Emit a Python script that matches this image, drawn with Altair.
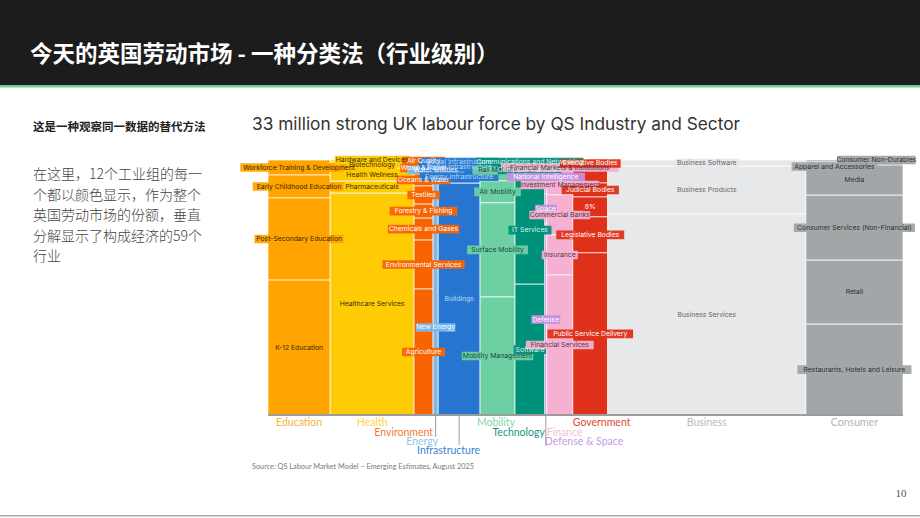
import altair as alt
import pandas as pd

# ---- industry groups (column widths = share of the UK workforce, %) ----
groups = ["Education", "Health", "Environment", "Energy", "Infrastructure", "Mobility",
          "Technology", "Defense & Space", "Finance", "Government", "Business", "Consumer"]
group_share = [9.8, 13.2, 3.0, 0.8, 6.6, 5.5, 4.7, 0.3, 4.1, 5.5, 31.2, 15.3]
group_colors = ["#FFA400", "#FFCB05", "#F96403", "#7AB8EC", "#2676D1", "#6DD0A2",
                "#00917A", "#C68FE3", "#F6B0D2", "#DF3119", "#E7E8EA", "#A3A6A8"]
label_text_colors = ["#3A2800", "#3A3000", "#FFFFFF", "#FFFFFF", "#B4D8FA", "#1E4A3A",
                     "#D9F5EC", "#FFFFFF", "#4E3A46", "#FFFFFF", "#666666", "#2E2E2E"]

# ---- industries within each group, listed top to bottom (share of the group, %) ----
education_industries = ["Workforce Training & Development", "Early Childhood Education",
                        "Post-Secondary Education", "K-12 Education"]
education_shares = [5.9, 9.0, 32.2, 52.9]

health_industries = ["Hardware and Devices", "Biotechnology", "Health Wellness",
                     "Pharmaceuticals", "Healthcare Services"]
health_shares = [0.8, 2.4, 5.1, 4.7, 87.0]

environment_industries = ["Air Quality", "Wood & Paper", "Oceans & Water", "Textiles",
                          "Forestry & Fishing", "Chemicals and Gases",
                          "Environmental Services", "Agriculture"]
environment_shares = [0.8, 4.7, 4.7, 7.1, 5.5, 8.6, 19.2, 49.4]

energy_industries = ["Water Utilities", "New Energy"]
energy_shares = [7.8, 92.2]

infrastructure_industries = ["Social Infrastructure", "Digital Infrastructure",
                             "Energy Infrastructure", "Buildings"]
infrastructure_shares = [1.6, 2.4, 5.1, 90.9]

mobility_industries = ["Rail Mobility", "Air Mobility", "Surface Mobility", "Mobility Management"]
mobility_shares = [8.2, 8.6, 36.9, 46.3]

technology_industries = ["Communications and Networking", "Computer Hardware",
                         "IT Services", "Software"]
technology_shares = [1.6, 4.7, 42.4, 51.3]

defense_industries = ["National Intelligence", "Space", "Defense"]
defense_shares = [13.3, 11.8, 74.9]

finance_industries = ["Financial Markets & Institutions", "Investment Management",
                      "Commercial Banks", "Insurance", "Financial Services"]
finance_shares = [5.9, 7.8, 15.7, 15.7, 54.9]

government_industries = ["Executive Bodies", "Judicial Bodies", "8%",
                         "Legislative Bodies", "Public Service Delivery"]
government_shares = [9.0, 5.5, 7.8, 14.1, 63.6]

business_industries = ["Business Software", "Business Products", "Business Services"]
business_shares = [2.4, 18.8, 78.8]

consumer_industries = ["Consumer Non-Durables", "Apparel and Accessories", "Media",
                       "Consumer Services (Non-Financial)", "Retail",
                       "Restaurants, Hotels and Leisure"]
consumer_shares = [0.8, 1.2, 11.8, 25.5, 25.1, 35.6]

industry_names = [education_industries, health_industries, environment_industries,
                  energy_industries, infrastructure_industries, mobility_industries,
                  technology_industries, defense_industries, finance_industries,
                  government_industries, business_industries, consumer_industries]
industry_shares = [education_shares, health_shares, environment_shares, energy_shares,
                   infrastructure_shares, mobility_shares, technology_shares,
                   defense_shares, finance_shares, government_shares, business_shares,
                   consumer_shares]

# ---- page layout ----
W, H = 920, 518
PLOT_LEFT, PLOT_RIGHT = 268, 903
PLOT_BOTTOM, PLOT_TOP = 415, 160
PX_PER_X = (PLOT_RIGHT - PLOT_LEFT) / 100.0
PX_PER_Y = (PLOT_BOTTOM - PLOT_TOP) / 100.0
LABEL_FONT = "Inter"
LABEL_SIZE = 6.8
CHAR_W = 3.55          # average width of a label character
LABEL_H = 8.6

# labels pushed off their tile centre so they do not sit on a neighbour (dx, dy in px)
label_nudge = {"New Energy": (0, 30), "Consumer Non-Durables": (22, -1),
               "Apparel and Accessories": (-20, 3), "Executive Bodies": (0, -8),
               "Hardware and Devices": (0, -1)}

xs = alt.Scale(domain=[0, 100], range=[PLOT_LEFT, PLOT_RIGHT])
ys = alt.Scale(domain=[0, 100], range=[PLOT_BOTTOM, PLOT_TOP])

# marimekko tiles
rows = []
left = 0.0
for g, gs, col, tcol, names, shares in zip(groups, group_share, group_colors,
                                          label_text_colors, industry_names, industry_shares):
    top = 100.0
    for name, v in zip(names, shares):
        dx, dy = label_nudge.get(name, (0, 0))
        xc = left + gs / 2 + dx / PX_PER_X
        yc = top - v / 2 - dy / PX_PER_Y
        hw = (len(name) * CHAR_W + 4) / 2 / PX_PER_X
        hh = LABEL_H / 2 / PX_PER_Y
        rows.append(dict(group=g, industry=name, fill=col, tcol=tcol,
                         x0=left, x1=left + gs, y0=top - v, y1=top,
                         xc=xc, yc=yc, bx0=xc - hw, bx1=xc + hw, by0=yc - hh, by1=yc + hh))
        top -= v
    left += gs
seg = pd.DataFrame(rows)

tiles = alt.Chart(seg).mark_rect(stroke="white", strokeWidth=0.7).encode(
    x=alt.X("x0:Q", scale=xs, axis=None), x2="x1",
    y=alt.Y("y0:Q", scale=ys, axis=None), y2="y1",
    fill=alt.Fill("fill:N", scale=None),
    tooltip=["group", "industry"],
)

boxes = alt.Chart(seg).mark_rect(opacity=0.95).encode(
    x=alt.X("bx0:Q", scale=xs, axis=None), x2="bx1",
    y=alt.Y("by0:Q", scale=ys, axis=None), y2="by1",
    fill=alt.Fill("fill:N", scale=None),
)

labels = alt.Chart(seg).mark_text(font=LABEL_FONT, fontSize=LABEL_SIZE, baseline="middle").encode(
    x=alt.X("xc:Q", scale=xs, axis=None),
    y=alt.Y("yc:Q", scale=ys, axis=None),
    text="industry:N",
    color=alt.Color("tcol:N", scale=None),
)

# baseline of the plot
axis_line = alt.Chart(pd.DataFrame({"a": [0], "b": [100], "y": [0]})).mark_rule(
    color="#9C9C9C", strokeWidth=2).encode(
    x=alt.X("a:Q", scale=xs, axis=None), x2="b", y=alt.Y("y:Q", scale=ys, axis=None))

# group names below the columns (anchor, row)
group_label_anchor = {"Education": "center", "Health": "center", "Environment": "right",
                      "Energy": "right", "Infrastructure": "right", "Mobility": "right",
                      "Technology": "right", "Defense & Space": "left", "Finance": "left",
                      "Government": "left", "Business": "center", "Consumer": "center"}
group_label_row = {"Education": 0, "Health": 0, "Environment": 1, "Energy": 2,
                   "Infrastructure": 3, "Mobility": 0, "Technology": 1,
                   "Defense & Space": 2, "Finance": 1, "Government": 0,
                   "Business": 0, "Consumer": 0}
group_label_colors = ["#F6B23C", "#FFD23F", "#F47834", "#94C6F0", "#3A82D6", "#7ED6AD",
                      "#17977F", "#C89AE3", "#F7BCD9", "#E24730", "#B8BABC", "#B3B5B7"]
ROW_PX = [8, 18, 27, 36]
leader_groups = ["Energy", "Infrastructure", "Defense & Space"]
LEADER_PX = {"Energy": 22, "Infrastructure": 30, "Defense & Space": 31}

glab = []
left = 0.0
for g, gs, c in zip(groups, group_share, group_label_colors):
    anchor = group_label_anchor[g]
    ax = {"center": left + gs / 2, "left": left, "right": left + gs}[anchor]
    glab.append(dict(group=g, anchor=anchor, x=ax, xc=left + gs / 2,
                     y=-ROW_PX[group_label_row[g]] / PX_PER_Y, color=c,
                     ly=-LEADER_PX.get(g, 0) / PX_PER_Y))
    left += gs
gdf = pd.DataFrame(glab)

group_text_layers = []
for anchor in ["center", "left", "right"]:
    group_text_layers.append(
        alt.Chart(gdf[gdf.anchor == anchor]).mark_text(
            font="Lato", fontSize=10.5, align=anchor, baseline="middle").encode(
            x=alt.X("x:Q", scale=xs, axis=None),
            y=alt.Y("y:Q", scale=ys, axis=None),
            text="group:N",
            color=alt.Color("color:N", scale=None),
        )
    )

leaders = alt.Chart(gdf[gdf.group.isin(leader_groups)]).mark_rule(
    color="#9C9C9C", strokeWidth=1).encode(
    x=alt.X("xc:Q", scale=xs, axis=None),
    y=alt.Y("ly:Q", scale=ys, axis=None),
    y2=alt.Y2(datum=0),
)

# ---- slide furniture ----
one = alt.Data(values=[{}])

header = alt.Chart(one).mark_rect(color="#1C1C1C").encode(
    x=alt.value(0), x2=alt.value(W), y=alt.value(0), y2=alt.value(85))
header_rule = alt.Chart(one).mark_rect(color="#6BD198").encode(
    x=alt.value(0), x2=alt.value(W), y=alt.value(85), y2=alt.value(87.5))
header_title = alt.Chart(one).mark_text(
    text="今天的英国劳动市场 - 一种分类法（行业级别）", font="Noto Sans CJK SC",
    fontSize=22.5, fontWeight="bold", color="#FFFFFF", align="left", baseline="middle").encode(
    x=alt.value(30), y=alt.value(55))

side_heading = alt.Chart(one).mark_text(
    text="这是一种观察同一数据的替代方法", font="Noto Sans CJK SC",
    fontSize=11.5, fontWeight="bold", color="#222222", align="left", baseline="middle").encode(
    x=alt.value(33), y=alt.value(128))

side_lines = ["在这里，12个工业组的每一", "个都以颜色显示，作为整个",
              "英国劳动市场的份额，垂直", "分解显示了构成经济的59个", "行业"]
side_text = alt.Chart(one).mark_text(
    text=side_lines, font="Noto Sans CJK SC", fontSize=14, fontWeight=300,
    lineHeight=20.5, color="#444444", align="left", baseline="middle").encode(
    x=alt.value(33), y=alt.value(175))

chart_title = alt.Chart(one).mark_text(
    text="33 million strong UK labour force by QS Industry and Sector", font="Inter",
    fontSize=17.3, color="#333333", align="left", baseline="middle").encode(
    x=alt.value(252), y=alt.value(125))

source = alt.Chart(one).mark_text(
    text="Source: QS Labour Market Model – Emerging Estimates, August 2025", font="Lato",
    fontSize=7.3, color="#7A7A7A", align="left", baseline="middle").encode(
    x=alt.value(252), y=alt.value(467))

page_no = alt.Chart(one).mark_text(
    text="10", font="Liberation Serif", fontSize=11, color="#555555",
    align="center", baseline="middle").encode(x=alt.value(901), y=alt.value(494))

bottom_rule = alt.Chart(one).mark_rect(color="#AAAAAA").encode(
    x=alt.value(0), x2=alt.value(W), y=alt.value(515), y2=alt.value(516.5))

chart = alt.layer(
    header, header_rule, header_title, side_heading, side_text, chart_title,
    tiles, axis_line, leaders, *group_text_layers, boxes, labels, source, page_no, bottom_rule,
).properties(
    width=W, height=H, padding=0, autosize=alt.AutoSizeParams(type="none"),
    background="#FFFFFF",
).configure_view(stroke=None)

chart.save("out.html", embed_options={"renderer": "svg", "actions": False})
